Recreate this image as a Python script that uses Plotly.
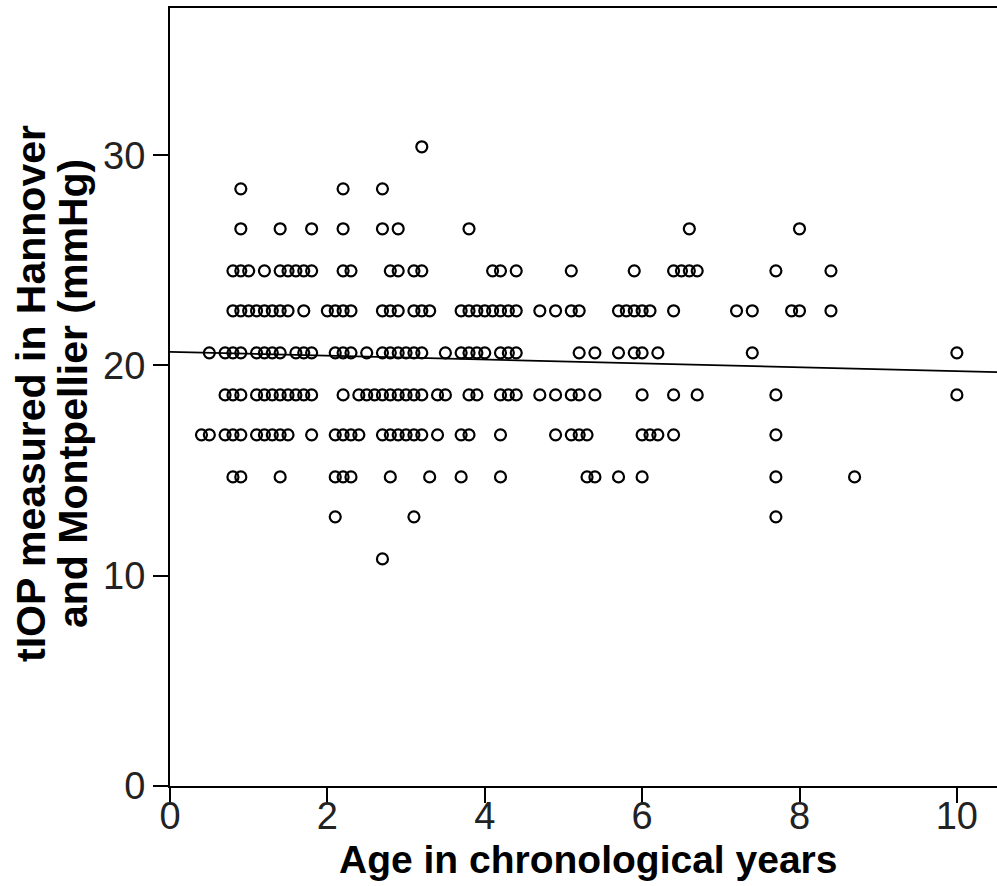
import plotly.graph_objects as go

# Ages (years) of eyes at each tIOP level (mmHg)
iop_levels = [10.8, 12.8, 14.7, 16.7, 18.6, 20.6, 22.6, 24.5, 26.5, 28.4, 30.4]

ages_108 = [2.7]
ages_128 = [2.1, 3.1, 7.7]
ages_147 = [0.8, 0.9, 1.4, 2.1, 2.2, 2.3, 2.8, 3.3, 3.7, 4.2, 5.3, 5.4, 5.7, 6.0, 7.7, 8.7]
ages_167 = [0.4, 0.5, 0.7, 0.8, 0.9, 1.1, 1.2, 1.3, 1.4, 1.5, 1.8, 2.1, 2.2, 2.3, 2.4,
            2.7, 2.8, 2.9, 3.0, 3.1, 3.2, 3.4, 3.7, 3.8, 4.2, 4.9, 5.1, 5.2, 5.3,
            6.0, 6.1, 6.2, 6.4, 7.7]
ages_186 = [0.7, 0.8, 0.9, 1.1, 1.2, 1.3, 1.4, 1.5, 1.6, 1.7, 1.8, 2.2, 2.4, 2.5, 2.6,
            2.7, 2.8, 2.9, 3.0, 3.1, 3.2, 3.4, 3.5, 3.8, 3.9, 4.2, 4.3, 4.4, 4.7, 4.9,
            5.1, 5.2, 5.4, 6.0, 6.4, 6.7, 7.7, 10.0]
ages_206 = [0.5, 0.7, 0.8, 0.9, 1.1, 1.2, 1.3, 1.4, 1.6, 1.7, 1.8, 2.1, 2.2, 2.3, 2.5,
            2.7, 2.8, 2.9, 3.0, 3.1, 3.2, 3.5, 3.7, 3.8, 3.9, 4.0, 4.2, 4.3, 4.4,
            5.2, 5.4, 5.7, 5.9, 6.0, 6.2, 7.4, 10.0]
ages_226 = [0.8, 0.9, 1.0, 1.1, 1.2, 1.3, 1.4, 1.5, 1.7, 2.0, 2.1, 2.2, 2.3, 2.7, 2.8,
            2.9, 3.1, 3.2, 3.3, 3.7, 3.8, 3.9, 4.0, 4.1, 4.2, 4.3, 4.4, 4.7, 4.9, 5.1,
            5.2, 5.7, 5.8, 5.9, 6.0, 6.1, 6.4, 7.2, 7.4, 7.9, 8.0, 8.4]
ages_245 = [0.8, 0.9, 1.0, 1.2, 1.4, 1.5, 1.6, 1.7, 1.8, 2.2, 2.3, 2.8, 2.9, 3.1, 3.2,
            4.1, 4.2, 4.4, 5.1, 5.9, 6.4, 6.5, 6.6, 6.7, 7.7, 8.4]
ages_265 = [0.9, 1.4, 1.8, 2.2, 2.7, 2.9, 3.8, 6.6, 8.0]
ages_284 = [0.9, 2.2, 2.7]
ages_304 = [3.2]

ages_by_level = [ages_108, ages_128, ages_147, ages_167, ages_186, ages_206,
                 ages_226, ages_245, ages_265, ages_284, ages_304]

# Regression line
fit_x = [0.0, 10.51]
fit_y = [20.65, 19.68]

x_ticks = [0, 2, 4, 6, 8, 10]
y_ticks = [0, 10, 20, 30]

x_title = "Age in chronological years"
y_title_line1 = "tIOP measured in Hannover"
y_title_line2 = "and Montpellier (mmHg)"

xs, ys = [], []
for lvl, ages in zip(iop_levels, ages_by_level):
    xs.extend(ages)
    ys.extend([lvl] * len(ages))

FONT = "Arial, 'Liberation Sans', sans-serif"

fig = go.Figure()
fig.add_trace(go.Scatter(
    x=xs, y=ys, mode="markers",
    marker=dict(symbol="circle-open", size=11, color="black", line=dict(width=2.2, color="black")),
    showlegend=False, cliponaxis=False, hoverinfo="skip",
))
fig.add_trace(go.Scatter(
    x=fit_x, y=fit_y, mode="lines",
    line=dict(color="black", width=1.8), showlegend=False, hoverinfo="skip",
))

title_font = dict(size=41, family=FONT, color="black")
fig.update_layout(
    width=997, height=886,
    margin=dict(l=170, r=0, t=8, b=100),
    paper_bgcolor="white", plot_bgcolor="white",
    font=dict(family=FONT, color="black"),
    annotations=[
        dict(text="<b>" + x_title + "</b>", xref="paper", yref="paper", x=0.5, y=0,
             xanchor="center", yanchor="middle", yshift=-73, xshift=4, showarrow=False,
             font=dict(size=39, family=FONT, color="black")),
        dict(text="<b>" + y_title_line1 + "</b>", xref="paper", yref="paper", x=0, y=0.5,
             xanchor="center", yanchor="middle", xshift=-139, yshift=3, textangle=-90,
             showarrow=False, font=title_font),
        dict(text="<b>" + y_title_line2 + "</b>", xref="paper", yref="paper", x=0, y=0.5,
             xanchor="center", yanchor="middle", xshift=-97, yshift=3, textangle=-90,
             showarrow=False, font=title_font),
    ],
)
fig.update_xaxes(
    range=[0, 10.51], tickvals=x_ticks, ticks="outside", ticklen=15, tickwidth=2,
    tickcolor="black", showline=True, linecolor="black", linewidth=2, mirror=True,
    showgrid=False, zeroline=False, automargin=False, ticklabelstandoff=-20,
    tickfont=dict(size=38, family=FONT, color="#222"),
)
fig.update_yaxes(
    range=[0, 37], tickvals=y_ticks, ticks="outside", ticklen=15, tickwidth=2,
    tickcolor="black", showline=True, linecolor="black", linewidth=2,
    showgrid=False, zeroline=False, automargin=False,
    tickfont=dict(size=38, family=FONT, color="#222"),
)

fig.write_html("out.html", config={"displayModeBar": False},
               post_script="document.body.style.margin='0';")
